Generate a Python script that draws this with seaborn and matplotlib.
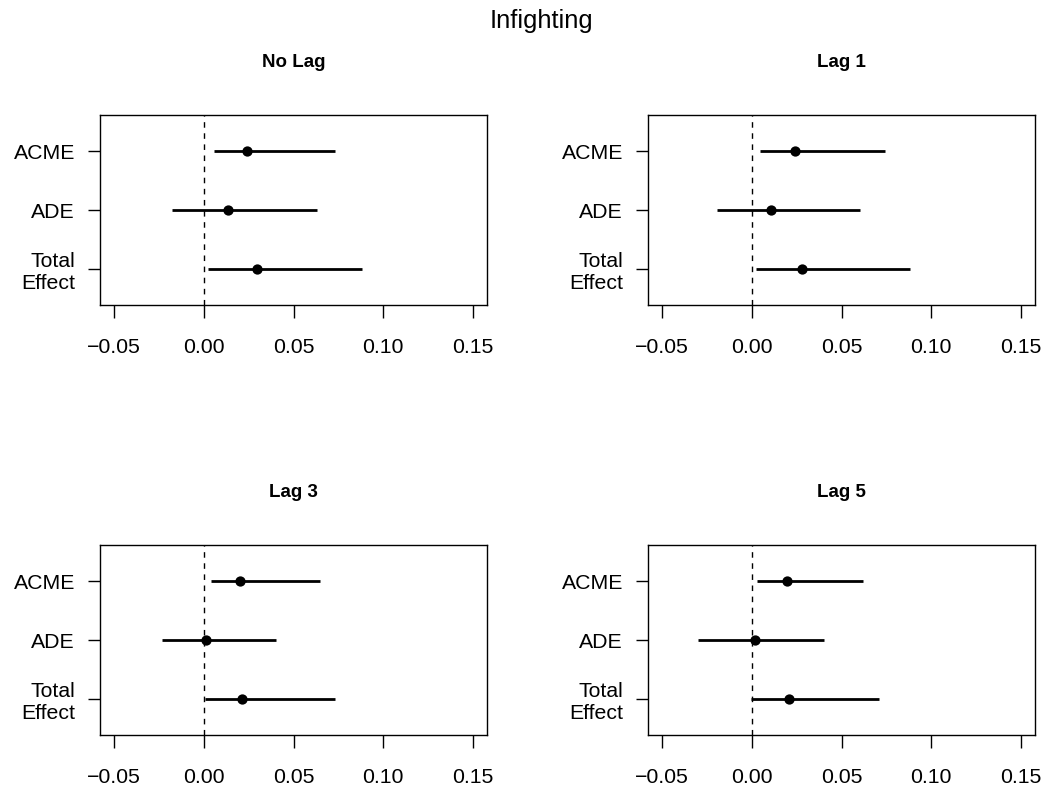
import matplotlib
matplotlib.use("Agg")
import matplotlib.pyplot as plt
import seaborn as sns
import pandas as pd

# effect labels, top to bottom
effects = ["ACME", "ADE", "Total\nEffect"]
panels = ["No Lag", "Lag 1", "Lag 3", "Lag 5"]

# point estimates and 95% intervals
est = {
    "No Lag": [0.0243, 0.0135, 0.0296],
    "Lag 1": [0.0239, 0.0108, 0.0278],
    "Lag 3": [0.0204, 0.0013, 0.0215],
    "Lag 5": [0.0196, 0.0017, 0.0209],
}
lower = {
    "No Lag": [0.0054, -0.0176, 0.0024],
    "Lag 1": [0.0047, -0.0196, 0.0022],
    "Lag 3": [0.0040, -0.0234, 0.0006],
    "Lag 5": [0.0030, -0.0299, -0.0006],
}
upper = {
    "No Lag": [0.0729, 0.0631, 0.0880],
    "Lag 1": [0.0740, 0.0603, 0.0885],
    "Lag 3": [0.0645, 0.0400, 0.0732],
    "Lag 5": [0.0620, 0.0403, 0.0711],
}
xticks = [-0.05, 0.00, 0.05, 0.10, 0.15]

sns.set_style("white")
plt.rcParams["font.family"] = ["Liberation Sans", "DejaVu Sans"]

fig = plt.figure(figsize=(10.44, 7.89), dpi=100)

# axes boxes in figure fractions
lefts = [0.0958, 0.6207, 0.0958, 0.6207]
bottoms = [0.6134, 0.6134, 0.0684, 0.0684]
w, h = 0.3707, 0.2408

for i, name in enumerate(panels):
    ax = fig.add_axes([lefts[i], bottoms[i], w, h])
    df = pd.DataFrame({
        "effect": effects,
        "y": [3, 2, 1],
        "est": est[name],
        "lo": lower[name],
        "hi": upper[name],
    })
    ax.axvline(0, color="black", lw=1, ls=(0, (4, 4)), zorder=1)
    ax.hlines(df["y"], df["lo"], df["hi"], color="black", lw=2, zorder=2)
    sns.scatterplot(data=df, x="est", y="y", color="black", s=55,
                    edgecolor="black", linewidth=0, ax=ax, zorder=3)
    ax.set_xlim(-0.058, 0.158)
    ax.set_ylim(0.38, 3.62)
    ax.set_xticks(xticks)
    ax.set_xticklabels([f"{t:.2f}".replace("-", "\u2212") for t in xticks])
    ax.set_yticks(df["y"])
    ax.set_yticklabels(df["effect"], ha="right", multialignment="right")
    ax.tick_params(axis="both", direction="out", length=9, width=1,
                   labelsize=15.3, color="black", labelcolor="black",
                   left=True, bottom=True)
    ax.tick_params(axis="x", pad=15)
    ax.tick_params(axis="y", pad=9)
    ax.set_xlabel("")
    ax.set_ylabel("")
    for s in ax.spines.values():
        s.set_color("black")
        s.set_linewidth(1)
    ax.text(0.5, 1 + 53 / 190, name, transform=ax.transAxes, ha="center",
            va="center", fontsize=13.5, fontweight="bold", color="black")

fig.text(541 / 1044, 1 - 21 / 789, "Infighting", ha="center", va="center",
         fontsize=18.4, color="black")

fig.savefig("out.png", dpi=100)
